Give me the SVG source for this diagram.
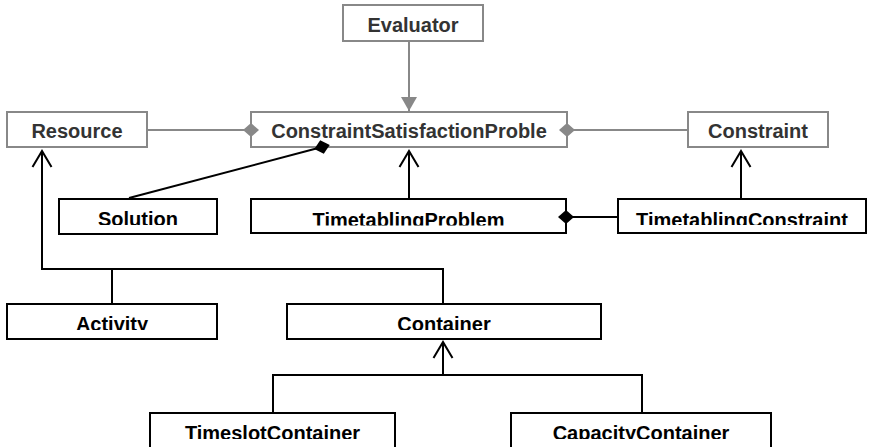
<svg xmlns="http://www.w3.org/2000/svg" width="876" height="447" viewBox="0 0 876 447">
<style>
.g rect{fill:#fff;stroke:#888;stroke-width:2}
.b rect{fill:#fff;stroke:#000;stroke-width:2}
text{font-family:"Liberation Sans",Arial,sans-serif;font-weight:bold;font-size:20px;text-anchor:middle}
.g text{fill:#333}
.b text{fill:#000}
.gl{stroke:#888;stroke-width:2;fill:none}
.bl{stroke:#000;stroke-width:2;fill:none}
</style>
<defs>
<marker id="tri" markerUnits="userSpaceOnUse" orient="auto" markerWidth="20" markerHeight="20" refX="0" refY="0" viewBox="-16 -10 18 20" overflow="visible"><path d="M-14,-8 L0,0 L-14,8 Z" fill="#888"/></marker>
<marker id="gdia" markerUnits="userSpaceOnUse" orient="auto" markerWidth="18" markerHeight="18" refX="0" refY="0" viewBox="-9 -9 18 18" overflow="visible"><path d="M-8,0 L0,-7 L8,0 L0,7 Z" fill="#888"/></marker>
<marker id="bdia" markerUnits="userSpaceOnUse" orient="auto" markerWidth="18" markerHeight="18" refX="0" refY="0" viewBox="-9 -9 18 18" overflow="visible"><path d="M-8,0 L0,-7 L8,0 L0,7 Z" fill="#000"/></marker>
<marker id="open" markerUnits="userSpaceOnUse" orient="auto" markerWidth="20" markerHeight="22" refX="0" refY="0" viewBox="-18 -11 20 22" overflow="visible"><path d="M-16,-9.5 L0,0 L-16,9.5" fill="none" stroke="#000" stroke-width="2"/></marker>
<clipPath id="cSol"><rect x="59" y="199" width="158" height="26"/></clipPath>
<clipPath id="cTP"><rect x="251" y="199" width="315" height="26.5"/></clipPath>
<clipPath id="cTC"><rect x="618" y="199" width="248" height="26"/></clipPath>
<clipPath id="cAct"><rect x="7" y="304" width="210" height="26"/></clipPath>
<clipPath id="cCon"><rect x="287" y="304" width="314" height="26"/></clipPath>
<clipPath id="cTS"><rect x="150" y="413" width="245" height="26"/></clipPath>
<clipPath id="cCap"><rect x="511" y="413" width="260" height="26"/></clipPath>
</defs>

<g id="Evaluator" class="g"><rect x="343" y="5" width="140" height="36"/><text x="413" y="32">Evaluator</text></g>
<g id="Resource" class="g"><rect x="7" y="112" width="140" height="35"/><text x="77" y="138">Resource</text></g>
<g id="ConstraintSatisfactionProblem" class="g"><rect x="251" y="112" width="316" height="35"/><text x="409" y="138">ConstraintSatisfactionProble</text></g>
<g id="Constraint" class="g"><rect x="688" y="112" width="140" height="35"/><text x="758" y="138">Constraint</text></g>
<g id="Solution" class="b"><rect x="59" y="199" width="158" height="35"/><text x="138" y="226" clip-path="url(#cSol)">Solution</text></g>
<g id="TimetablingProblem" class="b"><rect x="251" y="199" width="315" height="34"/><text x="408.5" y="226.5" clip-path="url(#cTP)">TimetablingProblem</text></g>
<g id="TimetablingConstraint" class="b"><rect x="618" y="199" width="248" height="34"/><text x="742" y="226.5" clip-path="url(#cTC)">TimetablingConstraint</text></g>
<g id="Activity" class="b"><rect x="7" y="304" width="210" height="35"/><text x="112" y="331" clip-path="url(#cAct)">Activity</text></g>
<g id="Container" class="b"><rect x="287" y="304" width="314" height="35"/><text x="444" y="331" clip-path="url(#cCon)">Container</text></g>
<g id="TimeslotContainer" class="b"><rect x="150" y="413" width="245" height="40"/><text x="272.5" y="440" clip-path="url(#cTS)">TimeslotContainer</text></g>
<g id="CapacityContainer" class="b"><rect x="511" y="413" width="260" height="40"/><text x="641" y="440" clip-path="url(#cCap)">CapacityContainer</text></g>

<g id="connectors">
<line class="gl" x1="409" y1="42" x2="409" y2="111" marker-end="url(#tri)"/>
<line class="gl" x1="148" y1="130" x2="251" y2="130" marker-end="url(#gdia)"/>
<line class="gl" x1="567" y1="130" x2="687" y2="130" marker-start="url(#gdia)"/>
<line class="bl" x1="129" y1="198" x2="322" y2="147" marker-end="url(#bdia)"/>
<line class="bl" x1="409" y1="198" x2="409" y2="151" marker-end="url(#open)"/>
<line class="bl" x1="617" y1="217" x2="566" y2="217" marker-end="url(#bdia)"/>
<line class="bl" x1="741" y1="198" x2="741" y2="151" marker-end="url(#open)"/>
<polyline class="bl" points="112,303 112,269 42,269 42,151" marker-end="url(#open)"/>
<polyline class="bl" points="443,303 443,269 42,269"/>
<polyline class="bl" points="273,412 273,375 443,375 443,342" marker-end="url(#open)"/>
<polyline class="bl" points="642,412 642,375 443,375"/>
</g>
</svg>
